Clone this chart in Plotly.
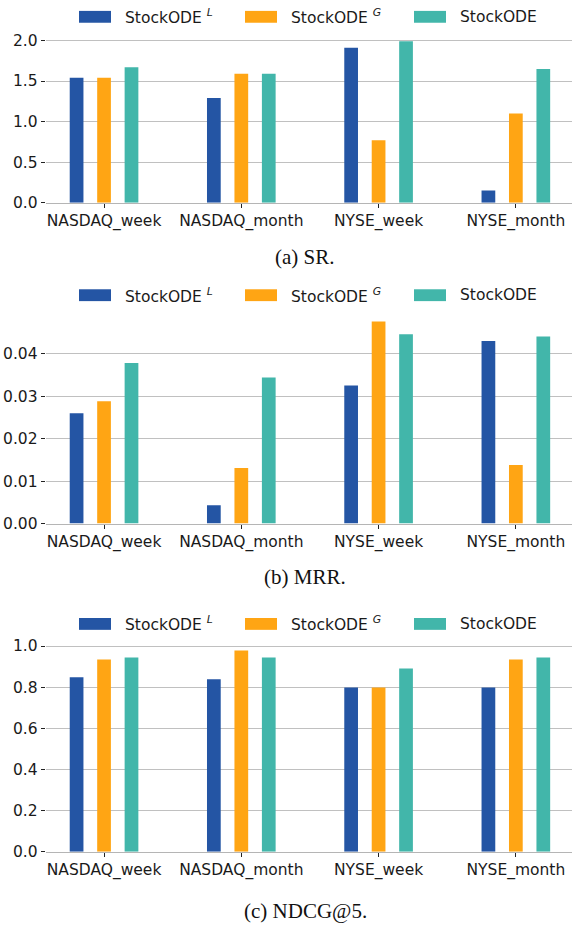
import plotly.graph_objects as go

# ---------------- data ----------------
categories = ["NASDAQ_week", "NASDAQ_month", "NYSE_week", "NYSE_month"]
series_names = ["StockODE <sup><i>L</i></sup>", "StockODE <sup><i>G</i></sup>", "StockODE"]
series_colors = ["#2455a4", "#ffa514", "#42b6aa"]

sr_L = [1.54, 1.29, 1.91, 0.15]
sr_G = [1.54, 1.59, 0.77, 1.10]
sr_full = [1.67, 1.59, 1.99, 1.65]

mrr_L = [0.0260, 0.0043, 0.0325, 0.0430]
mrr_G = [0.0288, 0.0131, 0.0476, 0.0138]
mrr_full = [0.0378, 0.0344, 0.0446, 0.0441]

ndcg_L = [0.848, 0.839, 0.799, 0.799]
ndcg_G = [0.935, 0.978, 0.799, 0.935]
ndcg_full = [0.944, 0.944, 0.891, 0.944]

captions = ["(a) SR.", "(b) MRR.", "(c) NDCG@5."]

# ---------------- layout helpers ----------------
W, H = 572, 934


def py(p):
    return 1 - p / H


def px(p):
    return p / W


panels = [
    dict(vals=[sr_L, sr_G, sr_full], ytop=2.09, dtick=0.5, fmt=".1f",
         top=30.6, bottom=202.3, leg=14, cap=257),
    dict(vals=[mrr_L, mrr_G, mrr_full], ytop=0.0499, dtick=0.01, fmt=".2f",
         top=312.8, bottom=527.3, leg=296, cap=581),
    dict(vals=[ndcg_L, ndcg_G, ndcg_full], ytop=1.027, dtick=0.2, fmt=".1f",
         top=645.8, bottom=859.7, leg=629, cap=920),
]

tick_font = dict(family="DejaVu Sans", size=15.5, color="#1a1a1a")
grid_col = "#c0c0c0"

fig = go.Figure()
shapes = []
annotations = []

leg_patch_x = [(79, 111), (245, 277), (414, 446)]
leg_text_x = [123, 289, 458]

for i, p in enumerate(panels):
    sfx = "" if i == 0 else str(i + 1)
    for j in range(3):
        fig.add_trace(go.Bar(
            x=categories, y=p["vals"][j], name=series_names[j],
            marker=dict(color=series_colors[j], line=dict(width=0)),
            xaxis="x" + sfx, yaxis="y" + sfx, showlegend=False,
        ))
    fig.update_layout(**{
        "xaxis" + sfx: dict(
            type="category", range=[-0.425, 3.409],
            domain=[px(45.7), 1.0], anchor="y" + sfx,
            ticks="outside", ticklen=4, tickwidth=1, tickcolor="#222",
            showline=True, linecolor="#b5b5b5", linewidth=1,
            showgrid=False, zeroline=False, tickfont=tick_font,
        ),
        "yaxis" + sfx: dict(
            range=[0, p["ytop"]], domain=[py(p["bottom"]), py(p["top"])],
            anchor="x" + sfx, dtick=p["dtick"], tick0=0, tickformat=p["fmt"],
            ticks="outside", ticklen=4, tickwidth=1, tickcolor="#222",
            showline=False, showgrid=True, gridcolor=grid_col, gridwidth=1,
            zeroline=False, tickfont=tick_font,
        ),
    })
    # legend (manual, matplotlib-style swatches)
    for j in range(3):
        x0, x1 = leg_patch_x[j]
        shapes.append(dict(
            type="rect", xref="paper", yref="paper",
            x0=px(x0), x1=px(x1), y0=py(p["leg"] + 6), y1=py(p["leg"] - 6),
            fillcolor=series_colors[j], line=dict(width=0),
        ))
        annotations.append(dict(
            text=series_names[j], xref="paper", yref="paper",
            x=px(leg_text_x[j]), y=py(p["leg"]), xanchor="left", yanchor="middle",
            showarrow=False, font=dict(family="DejaVu Sans", size=15.5, color="#1a1a1a"),
        ))
    annotations.append(dict(
        text=captions[i], xref="paper", yref="paper",
        x=px(305), y=py(p["cap"]), xanchor="center", yanchor="middle",
        showarrow=False, font=dict(family="Liberation Serif", size=21, color="#111"),
    ))

fig.update_layout(
    width=W, height=H,
    margin=dict(l=0, r=0, t=0, b=0),
    paper_bgcolor="white", plot_bgcolor="white",
    barmode="group", bargap=0.4, bargroupgap=0.5,
    shapes=shapes, annotations=annotations,
    showlegend=False,
)

fig.write_html(
    "out.html",
    config={"displayModeBar": False, "responsive": False},
    post_script=(
        "document.documentElement.style.margin='0';"
        "document.documentElement.style.padding='0';"
        "document.body.style.margin='0';"
        "document.body.style.padding='0';"
        "document.documentElement.style.overflow='hidden';"
    ),
)
